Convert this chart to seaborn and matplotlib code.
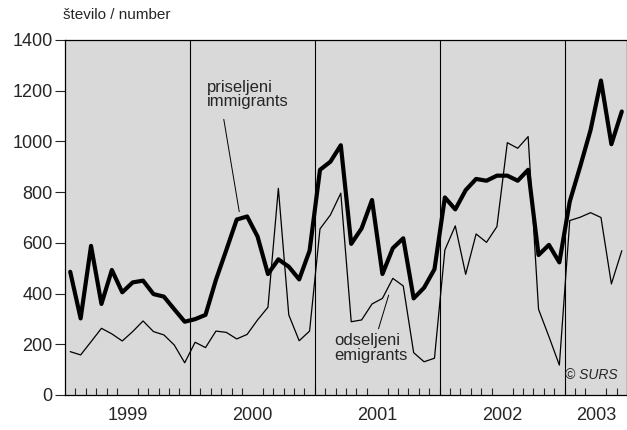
import pandas as pd
import seaborn as sns
import numpy as np
import matplotlib.pyplot as plt
from matplotlib.ticker import MultipleLocator

# data: monthly, Jan 1999 - Jun 2003
years = ['1999', '2000', '2001', '2002', '2003']
year_months = [12, 12, 12, 12, 6]
immigrants = [486, 302, 588, 359, 493, 405, 444, 451, 398, 388, 338, 289,
              299, 316, 454, 572, 692, 704, 625, 477, 535, 506, 456, 569,
              888, 920, 985, 596, 657, 769, 477, 579, 618, 381, 423, 496,
              779, 732, 808, 852, 845, 865, 865, 845, 888, 552, 592, 523,
              763, 901, 1045, 1240, 989, 1118]
emigrants = [171, 158, 210, 263, 241, 213, 250, 292, 250, 237, 197, 127,
             208, 187, 252, 247, 221, 239, 296, 346, 815, 316, 214, 252,
             655, 710, 796, 289, 296, 359, 381, 460, 430, 167, 131, 145,
             572, 667, 476, 635, 602, 664, 995, 973, 1019, 338, 230, 118,
             688, 701, 719, 700, 438, 569]

n = len(immigrants)
df = pd.DataFrame({'month': np.arange(n) + 0.5,
                   'immigrants': immigrants,
                   'emigrants': emigrants})

sns.set_style('ticks')
plt.rcParams['font.family'] = ['Liberation Sans', 'DejaVu Sans']

fig = plt.figure(figsize=(6.27, 4.30), dpi=100)
ax = fig.add_axes([0.1037, 0.0814, 0.8963, 0.8256])
ax.set_facecolor('#d9d9d9')

sns.lineplot(data=df, x='month', y='emigrants', color='black', lw=0.9, ax=ax)
sns.lineplot(data=df, x='month', y='immigrants', color='black', lw=3.0, ax=ax)

# year boundaries
bounds = np.cumsum(year_months)
for b in bounds[:-1]:
    ax.axvline(b, color='black', lw=0.8)

ax.set_xlim(0, n)
ax.set_ylim(0, 1400)
ax.yaxis.set_major_locator(MultipleLocator(200))
ax.tick_params(axis='y', labelsize=13, length=7, width=0.8, pad=2)

centers = bounds - np.array(year_months) / 2
ax.set_xticks(centers)
ax.set_xticklabels(years)
ax.set_xticks(np.arange(1, n), minor=True)
ax.tick_params(axis='x', which='major', length=0, labelsize=13, pad=9)
ax.tick_params(axis='x', which='minor', direction='in', length=5, width=0.8)
ax.set_xlabel('')
ax.set_ylabel('')

for s in ax.spines.values():
    s.set_linewidth(0.9)
    s.set_color('black')

# labels
ax.annotate('priseljeni\nimmigrants', xy=(16.74, 723), xytext=(13.6, 1185),
            fontsize=12, va='center', ha='left', linespacing=0.95,
            arrowprops=dict(arrowstyle='-', lw=0.7, color='black',
                            shrinkA=5, shrinkB=0, relpos=(0.19, 0)))
ax.annotate('odseljeni\nemigrants', xy=(31.1, 394), xytext=(25.9, 185),
            fontsize=12, va='center', ha='left', linespacing=0.95,
            arrowprops=dict(arrowstyle='-', lw=0.7, color='black',
                            shrinkA=1, shrinkB=0, relpos=(0.58, 1)))
ax.text(53.1, 79, '© SURS', fontsize=10, style='italic', ha='right', va='center')
fig.text(0.1, 1 - 15 / 430, 'število / number', fontsize=11, ha='left', va='center')

fig.savefig('out.png', dpi=100)
